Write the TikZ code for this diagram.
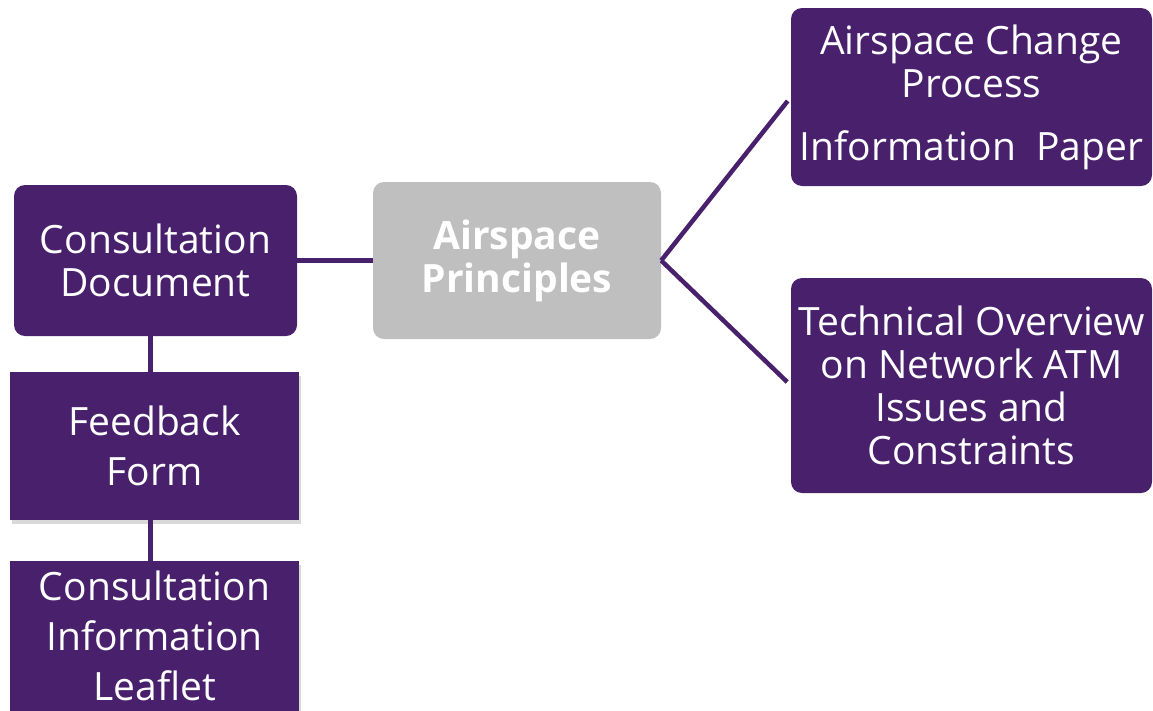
\documentclass[tikz,border=0pt]{standalone}
\usepackage{fontspec}
\setmainfont{Open Sans}
\usetikzlibrary{positioning, calc, shadows}
\definecolor{docpurple}{RGB}{72,32,108}
\definecolor{hubgrey}{RGB}{191,191,191}
\tikzstyle{Link} = [
%Plain connector between boxes:
line width = 4.5pt, draw = docpurple
]

\begin{document}
\begin{tikzpicture}[x = 1pt, y = -1pt,
				document/.style = {rectangle, rounded corners = 11pt, fill = docpurple, text = white, align = center, font = \fontsize{39}{43}\selectfont},
				attached/.style = {rectangle, fill = docpurple, text = white, align = center, font = \fontsize{39}{50}\selectfont, drop shadow = {opacity = 0.3, shadow xshift = 2pt, shadow yshift = -4pt}},
				hub/.style = {rectangle, rounded corners = 11pt, fill = hubgrey, text = white, align = center, font = \fontsize{39}{43}\selectfont\bfseries},
			]
			\useasboundingbox (0,0) rectangle (1153,710);

			\node[document, minimum width = 283pt, minimum height = 151pt](CD) at (155.5,260.5){Consultation\\Document};
			\node[attached, minimum width = 289pt, minimum height = 148pt](FF) at (154.5,446){Feedback\\Form};
			\node[attached, minimum width = 289pt, minimum height = 150pt](CIL) at (154.5,636){Consultation\\Information\\Leaflet};
			\node[hub, minimum width = 288pt, minimum height = 157pt](AP) at (517,260.5){Airspace\\Principles};
			\node[document, minimum width = 361pt, minimum height = 178pt](ACP) at (971.5,97){Airspace Change\\Process\\[20pt]Information~~Paper};
			\node[document, minimum width = 361pt, minimum height = 215pt](TO) at (971.5,385.5){Technical Overview\\on Network ATM\\Issues and\\Constraints};

			\draw[Link](CD.east)--(AP.west);
			\draw[Link, shorten >= 5pt](AP.east)--(ACP.west);
			\draw[Link, shorten >= 5pt](AP.east)--(TO.west);
			\draw[Link]([xshift = -5pt, yshift = 16pt]CD.south)--([xshift = -4pt]FF.north);
			\draw[Link]([xshift = -4pt]FF.south)--([xshift = -4pt, yshift = -10pt]CIL.north);

		\end{tikzpicture}
\end{document}
